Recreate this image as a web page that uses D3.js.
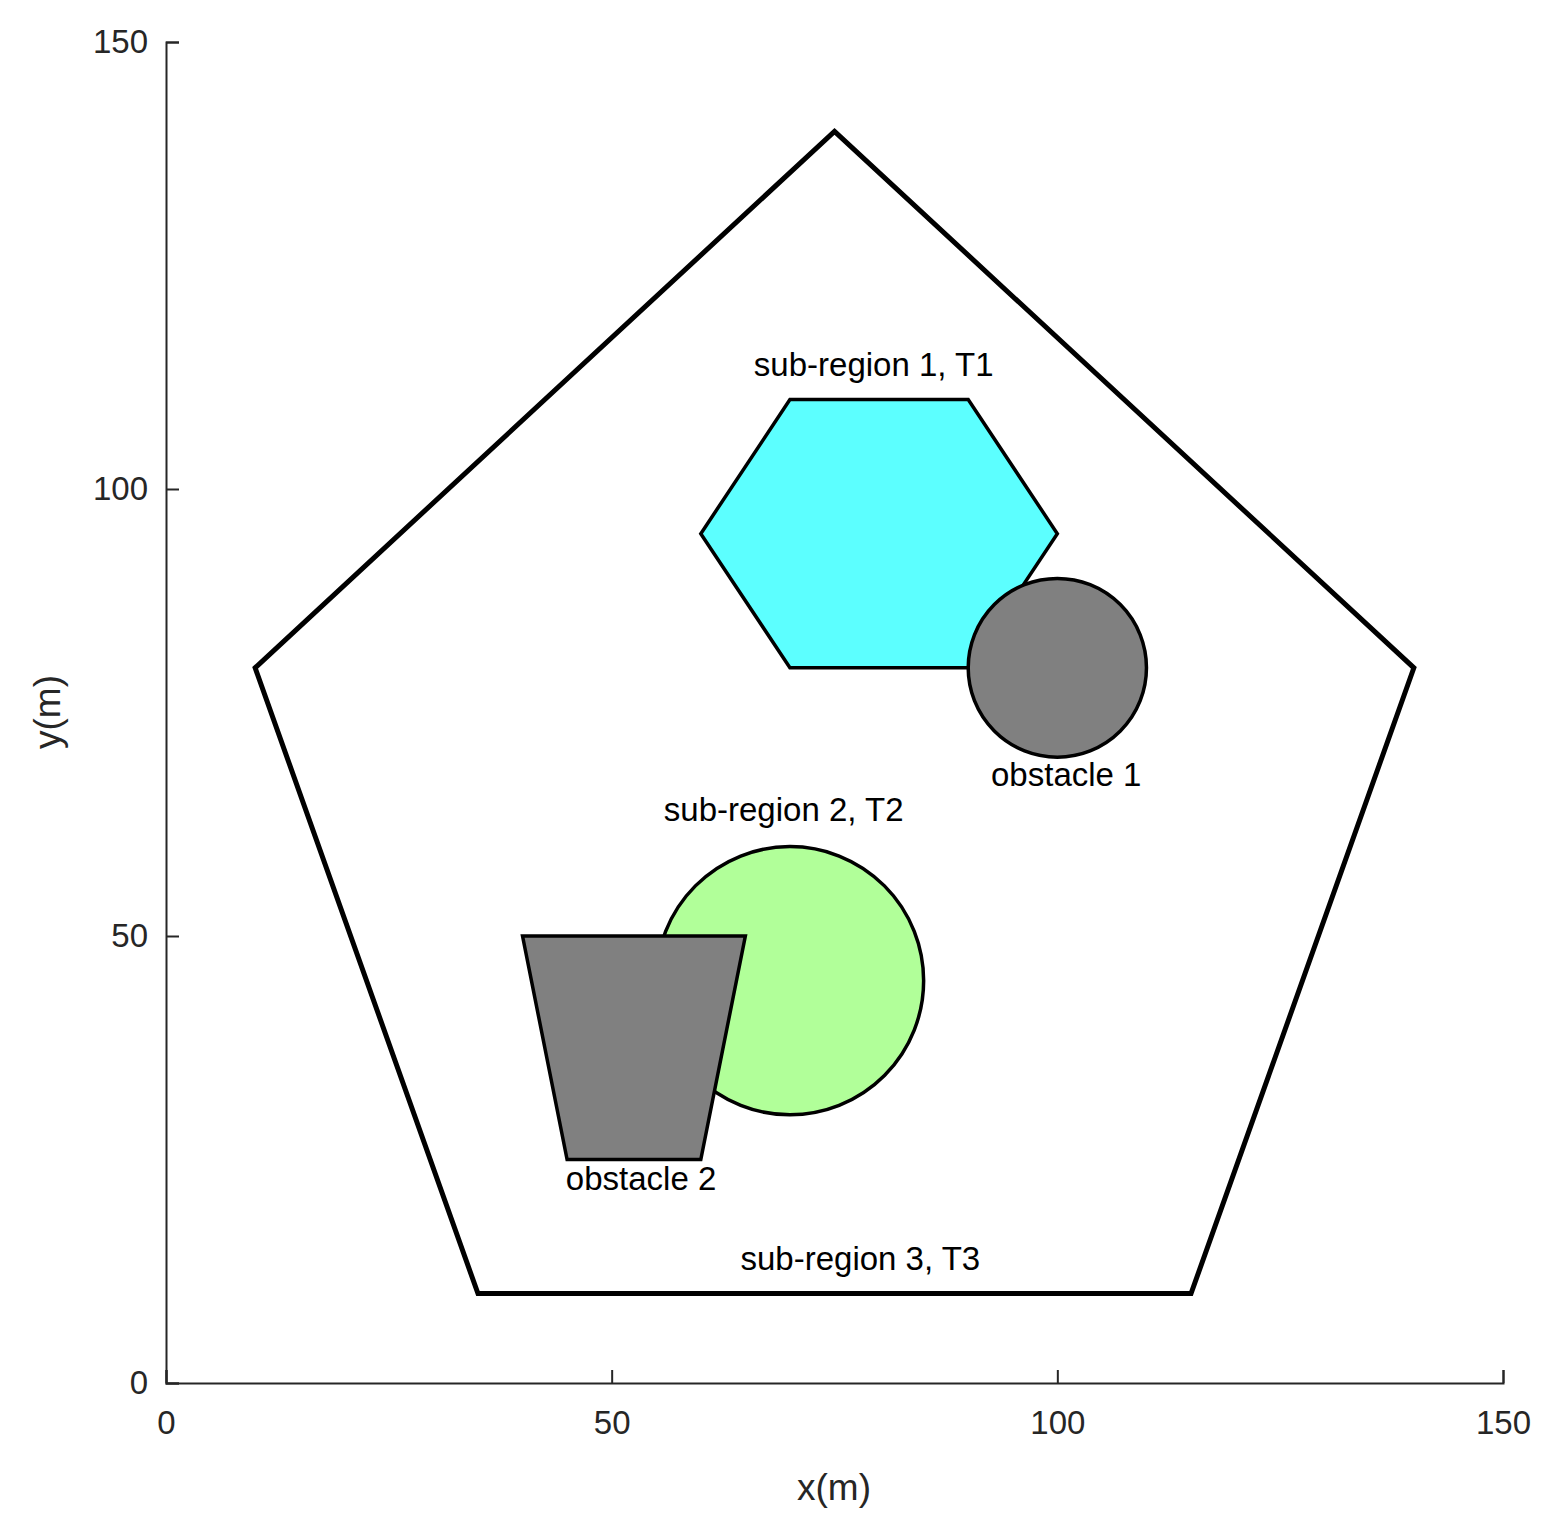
<!DOCTYPE html>
<html>
<head>
<meta charset="utf-8">
<script src="https://cdn.jsdelivr.net/npm/d3@7"></script>
<style>
  body { margin: 0; background: #fff; }
  text { font-family: "Liberation Sans", Arial, sans-serif; }
</style>
</head>
<body>
<svg id="chart" width="1563" height="1535"></svg>
<script>
// Data
const xTicks = [0, 50, 100, 150];
const yTicks = [0, 50, 100, 150];
const region = [[75, 140], [140, 80], [115, 10], [35, 10], [10, 80]];
const hexagon = [[70, 110], [90, 110], [100, 95], [90, 80], [70, 80], [60, 95]];
const trapezoid = [[40, 50], [65, 50], [60, 25], [45, 25]];
const obstacle1 = { cx: 100, cy: 80, r: 10 };
const circle2 = { cx: 70, cy: 45, r: 15 };
const labels = [
  { text: 'sub-region 1, T1', x: 79.4, y: 113.6 },
  { text: 'obstacle 1', x: 101, y: 67.7 },
  { text: 'sub-region 2, T2', x: 69.3, y: 63.8 },
  { text: 'obstacle 2', x: 53.3, y: 22.6 },
  { text: 'sub-region 3, T3', x: 77.9, y: 13.6 }
];

// Setup
const svg = d3.select('#chart');
const x = d3.scaleLinear().domain([0, 150]).range([166, 1503]);
const y = d3.scaleLinear().domain([0, 150]).range([1383, 42]);
const line = d3.line().x(d => x(d[0])).y(d => y(d[1])).curve(d3.curveLinearClosed);

// Shapes
svg.append('path').attr('d', line(region))
  .attr('fill', 'none').attr('stroke', '#000').attr('stroke-width', 5);
svg.append('path').attr('d', line(hexagon))
  .attr('fill', '#5cffff').attr('stroke', '#000').attr('stroke-width', 3.5);
svg.append('ellipse')
  .attr('cx', x(obstacle1.cx)).attr('cy', y(obstacle1.cy))
  .attr('rx', x(obstacle1.r) - x(0)).attr('ry', y(0) - y(obstacle1.r))
  .attr('fill', '#808080').attr('stroke', '#000').attr('stroke-width', 3.5);
svg.append('ellipse')
  .attr('cx', x(circle2.cx)).attr('cy', y(circle2.cy))
  .attr('rx', x(circle2.r) - x(0)).attr('ry', y(0) - y(circle2.r))
  .attr('fill', '#b1ff99').attr('stroke', '#000').attr('stroke-width', 3.5);
svg.append('path').attr('d', line(trapezoid))
  .attr('fill', '#808080').attr('stroke', '#000').attr('stroke-width', 3.5);

svg.selectAll('.lbl').data(labels).enter().append('text')
  .attr('x', d => x(d.x)).attr('y', d => y(d.y))
  .attr('text-anchor', 'middle').attr('dominant-baseline', 'middle')
  .attr('font-size', 33).attr('fill', '#000')
  .text(d => d.text);

// Axes
const xAxis = svg.append('g').attr('transform', 'translate(0,1383)')
  .call(d3.axisBottom(x).tickValues(xTicks).tickSize(-13).tickPadding(28));
const yAxis = svg.append('g').attr('transform', 'translate(166,0)')
  .call(d3.axisLeft(y).tickValues(yTicks).tickSize(-13).tickPadding(18));
[xAxis, yAxis].forEach(a => {
  a.selectAll('path, line').attr('stroke', '#262626').attr('stroke-width', 2);
  a.selectAll('text').attr('font-size', 33).attr('fill', '#262626')
    .style('font-family', '"Liberation Sans", Arial, sans-serif');
});

svg.append('text').attr('x', 834).attr('y', 1500).attr('text-anchor', 'middle')
  .attr('font-size', 37).attr('fill', '#262626').text('x(m)');
svg.append('text').attr('transform', 'translate(60,712) rotate(-90)')
  .attr('text-anchor', 'middle').attr('font-size', 37).attr('fill', '#262626').text('y(m)');
</script>
</body>
</html>
